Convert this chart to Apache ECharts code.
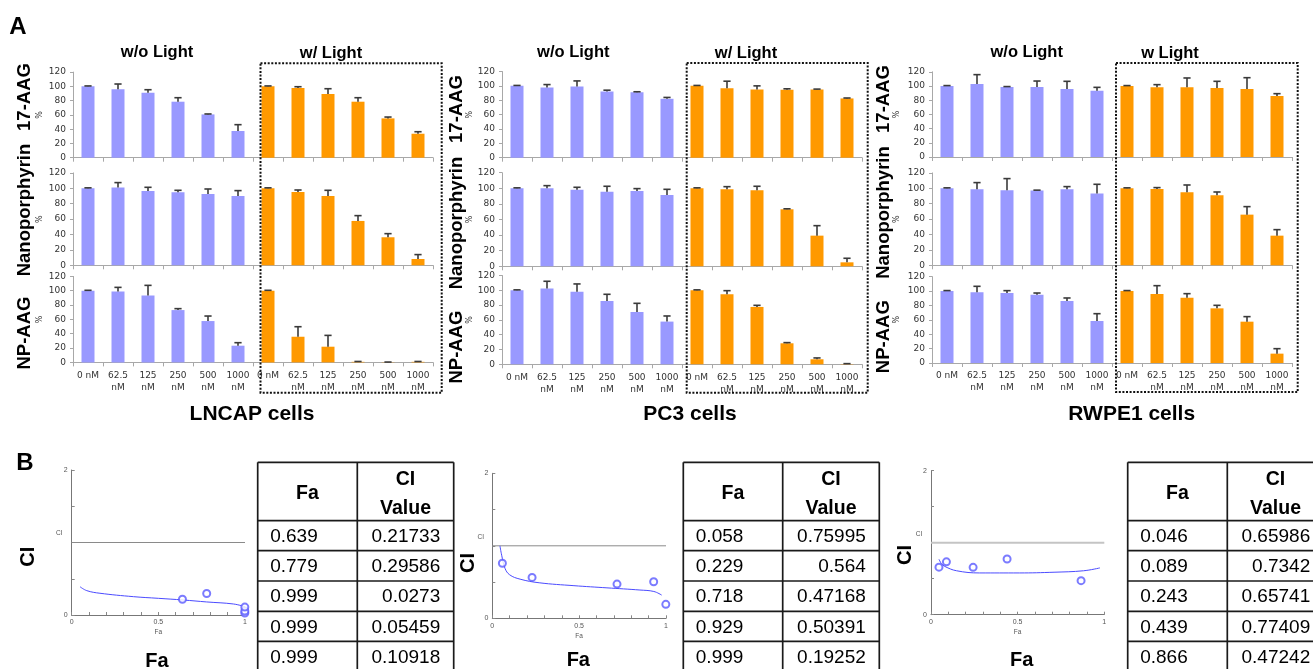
<!DOCTYPE html>
<html><head><meta charset="utf-8">
<script src="https://cdn.jsdelivr.net/npm/echarts@6/dist/echarts.min.js"></script>
<style>html,body{margin:0;padding:0;background:#fff}#c{width:1313px;height:669px}</style>
</head><body><div id="c"></div>
<script>
// ---------- DATA ----------
const doseLabels = ['0 nM', '62.5\nnM', '125\nnM', '250\nnM', '500\nnM', '1000\nnM'];
const drugNames = ['17-AAG', 'Nanoporphyrin', 'NP-AAG'];
const cellNames = ['LNCAP cells', 'PC3 cells', 'RWPE1 cells'];
const darkTitles = ['w/o Light', 'w/o Light', 'w/o Light'];
const lightTitles = ['w/ Light', 'w/ Light', 'w Light'];

// LNCAP
const lncap_17aag_dark = [100, 95.8, 91.1, 78.5, 60.7, 37.4];
const lncap_17aag_dark_err = [0.6, 7.5, 4.2, 5.6, 0.6, 8.9];
const lncap_17aag_light = [100, 97.7, 89.3, 78.5, 55.1, 33.6];
const lncap_17aag_light_err = [0.6, 1.8, 7.4, 5.6, 1.9, 2.8];
const lncap_np_dark = [100, 100.9, 96.5, 94.8, 92.6, 90.0];
const lncap_np_dark_err = [0.6, 6.5, 4.8, 2.6, 6.5, 7.0];
const lncap_np_light = [100, 95.2, 90.0, 57.6, 36.4, 8.2];
const lncap_np_light_err = [0.6, 2.6, 7.4, 6.9, 4.7, 5.7];
const lncap_npaag_dark = [100, 99.1, 93.5, 73.0, 57.7, 23.3];
const lncap_npaag_dark_err = [0.6, 5.6, 14, 2, 7, 4.2];
const lncap_npaag_light = [100, 35.8, 21.9, 0.8, 0.3, 0.8];
const lncap_npaag_light_err = [0.6, 14, 15.8, 0.5, 0.2, 0.5];
// PC3
const pc3_17aag_dark = [100, 97.7, 99.1, 92.2, 91.2, 82];
const pc3_17aag_dark_err = [0.6, 4.1, 7.8, 1.8, 0.6, 1.9];
const pc3_17aag_light = [100, 96.8, 94.9, 94.5, 94.9, 82.5];
const pc3_17aag_light_err = [0.6, 9.7, 5.1, 1.4, 0.6, 0.6];
const pc3_np_dark = [100, 100, 98.3, 95.7, 96.6, 91.5];
const pc3_np_dark_err = [0.6, 3.4, 3, 6.9, 3, 7.2];
const pc3_np_light = [100, 98.7, 97.4, 73.1, 39.3, 5.1];
const pc3_np_light_err = [0.6, 3.4, 5.2, 0.6, 12.8, 5.2];
const pc3_npaag_dark = [100, 102.3, 98.2, 85.6, 70.7, 57.7];
const pc3_npaag_dark_err = [0.6, 9.9, 10.4, 9, 11.7, 7.6];
const pc3_npaag_light = [100, 94.6, 77.5, 28.4, 6.8, 0.4];
const pc3_npaag_light_err = [0.6, 4.9, 2.2, 0.9, 1.8, 0.5];
// RWPE1
const rwpe1_17aag_dark = [100, 102.8, 98.6, 98.6, 95.8, 93.4];
const rwpe1_17aag_dark_err = [0.6, 13.2, 0.6, 8.4, 10.8, 4.7];
const rwpe1_17aag_light = [100, 98.1, 98.1, 97.2, 95.8, 85.9];
const rwpe1_17aag_light_err = [0.6, 3.8, 13.2, 9.4, 15.9, 3.3];
const rwpe1_np_dark = [100, 98.7, 97.4, 97.0, 98.7, 93.1];
const rwpe1_np_dark_err = [0.6, 8.7, 15.2, 0.6, 3.5, 12.1];
const rwpe1_np_light = [100, 99.1, 94.8, 90.9, 65.8, 38.5];
const rwpe1_np_light_err = [0.6, 1.8, 9.5, 4.3, 10.4, 7.8];
const rwpe1_npaag_dark = [100, 98.1, 97.2, 94.9, 86.1, 58.3];
const rwpe1_npaag_dark_err = [0.6, 8.4, 3.3, 2.3, 4.2, 10.2];
const rwpe1_npaag_light = [100, 95.8, 90.7, 75.9, 57.4, 13];
const rwpe1_npaag_light_err = [0.6, 11.6, 5.6, 4.2, 7, 6.9];

// Panel B: combination index
const ci_fa_lncap = [0.639, 0.779, 0.999, 0.999, 0.999];
const ci_val_lncap = [0.21733, 0.29586, 0.0273, 0.05459, 0.10918];
const ci_fa_pc3 = [0.058, 0.229, 0.718, 0.929, 0.999];
const ci_val_pc3 = [0.75995, 0.564, 0.47168, 0.50391, 0.19252];
const ci_fa_rwpe1 = [0.046, 0.089, 0.243, 0.439, 0.866];
const ci_val_rwpe1 = [0.65986, 0.7342, 0.65741, 0.77409, 0.47242];
// simulated CI curves [Fa, CI]
const ci_curve_lncap = [[0.048,0.39],[0.087,0.336],[0.163,0.30],[0.356,0.253],[0.5,0.23],[0.644,0.207],[0.779,0.18],[0.933,0.152],[1.0,0.115]];
const ci_curve_pc3 = [[0.044,1.0],[0.054,0.87],[0.073,0.69],[0.10,0.60],[0.16,0.54],[0.27,0.49],[0.47,0.45],[0.66,0.42],[0.85,0.39],[0.93,0.37],[0.975,0.32]];
const ci_curve_rwpe1 = [[0.046,0.77],[0.06,0.71],[0.08,0.67],[0.148,0.61],[0.28,0.58],[0.51,0.58],[0.71,0.59],[0.88,0.61],[0.975,0.65]];
const ci_ref_line = [[0, 1], [1, 1]];
const ciTicksShown = [0, 2];
const faTicksShown = [0, 0.5, 1];

// ---------- STRUCTURE ----------
const groups = [
  [[lncap_17aag_dark, lncap_17aag_dark_err, lncap_17aag_light, lncap_17aag_light_err],
   [lncap_np_dark, lncap_np_dark_err, lncap_np_light, lncap_np_light_err],
   [lncap_npaag_dark, lncap_npaag_dark_err, lncap_npaag_light, lncap_npaag_light_err]],
  [[pc3_17aag_dark, pc3_17aag_dark_err, pc3_17aag_light, pc3_17aag_light_err],
   [pc3_np_dark, pc3_np_dark_err, pc3_np_light, pc3_np_light_err],
   [pc3_npaag_dark, pc3_npaag_dark_err, pc3_npaag_light, pc3_npaag_light_err]],
  [[rwpe1_17aag_dark, rwpe1_17aag_dark_err, rwpe1_17aag_light, rwpe1_17aag_light_err],
   [rwpe1_np_dark, rwpe1_np_dark_err, rwpe1_np_light, rwpe1_np_light_err],
   [rwpe1_npaag_dark, rwpe1_npaag_dark_err, rwpe1_npaag_light, rwpe1_npaag_light_err]]
];
const ciSets = [
  [ci_fa_lncap, ci_val_lncap, ci_curve_lncap],
  [ci_fa_pc3, ci_val_pc3, ci_curve_pc3],
  [ci_fa_rwpe1, ci_val_rwpe1, ci_curve_rwpe1]
];

// ---------- LAYOUT ----------
const layA = [
  {left:73, rows:[[72.1,85.6],[172.9,92.4],[276.4,86]], box:[260.5,63.3,181.2,329.4], labelX:25, labelYs:[97,210,333], pctX:40, woX:157, wX:331, cellsX:252},
  {left:502, rows:[[71.5,86.2],[172.7,93.6],[275.5,88.8]], box:[686.7,63,181,329.7], labelX:456.7, labelYs:[109,223,347], pctX:470, woX:573.3, wX:746, cellsX:690},
  {left:932, rows:[[71.8,85.2],[172.9,92.4],[276.6,86.4]], box:[1116,63,181.7,329], labelX:884, labelYs:[99,212.5,336.7], pctX:896.7, woX:1026.7, wX:1170, cellsX:1131.7}
];
const layB = [
  {grid:[71.7,470,173.3,145], ciBig:[28,556.7], faBig:[157,661], ciSmall:[59.3,533.3], refColor:'#8a8a8a', refW:1, table:[257.7,357.3,453.7]},
  {grid:[492.3,473.3,173.7,145], ciBig:[468.3,563], faBig:[578.3,660], ciSmall:[480.7,537.3], refColor:'#8a8a8a', refW:1, table:[683.3,782.7,879.3]},
  {grid:[931,470.7,173.3,144], ciBig:[905,555], faBig:[1021.7,660], ciSmall:[919,534], refColor:'#c4c4c4', refW:2, table:[1127.7,1227.3,1323.7]}
];
const tableRowsY = [462.3, 520.7, 550.7, 581, 611.3, 641.3, 671.6];

const FONT = 'Liberation Sans, Arial, sans-serif';
const TICKFONT = 'DejaVu Sans, Verdana, sans-serif';

const grid = [], xAxis = [], yAxis = [], series = [], graphic = [];
const cats12 = Array.from({length:12}, (_, i) => 'c' + i);
const blank6 = ['-', '-', '-', '-', '-', '-'];

function txt(x, y, text, o) {
  o = o || {};
  graphic.push({
    type:'text', x, y, rotation:o.rot || 0, z:100, silent:true,
    style:{text, fontFamily:o.family || FONT, fontSize:o.size || 12, fontWeight:o.weight || 'normal',
      fill:o.color || '#000', textAlign:o.align || 'center', align:o.align || 'center',
      textVerticalAlign:'middle', verticalAlign:'middle'}
  });
}
function line(x1, y1, x2, y2, color, w) {
  graphic.push({type:'line', z:100, silent:true, shape:{x1, y1, x2, y2}, style:{stroke:color, lineWidth:w}});
}

function renderErr(params, api) {
  const x = api.value(0), v = api.value(1), e = api.value(2);
  const p0 = api.coord([x, v]);
  const p1 = api.coord([x, v + e]);
  const hw = 3.6;
  const st = {stroke:'#3a3a3a', lineWidth:1.6};
  return {type:'group', children:[
    {type:'line', shape:{x1:p0[0], y1:p0[1], x2:p1[0], y2:p1[1]}, style:st},
    {type:'line', shape:{x1:p1[0]-hw, y1:p1[1], x2:p1[0]+hw, y2:p1[1]}, style:st}
  ]};
}

let gi = 0;
groups.forEach((rows, k) => {
  const L = layA[k];
  rows.forEach((r, ri) => {
    const [top, h] = L.rows[ri];
    const [dark, darkErr, light, lightErr] = r;
    grid.push({left:L.left, top:top, width:360, height:h});
    xAxis.push({
      type:'category', gridIndex:gi, data:cats12, boundaryGap:true,
      axisLine:{show:true, lineStyle:{color:'#a8a8a8', width:1}},
      axisTick:{show:true, length:4, alignWithLabel:false, lineStyle:{color:'#a8a8a8'}},
      axisLabel:{show:ri === 2, interval:0, formatter:(v, i) => doseLabels[i % 6],
        fontFamily:TICKFONT, fontSize:9, color:'#333', lineHeight:12, margin:7}
    });
    yAxis.push({
      type:'value', gridIndex:gi, min:0, max:120, interval:20,
      axisLine:{show:true, lineStyle:{color:'#a8a8a8', width:1}},
      axisTick:{show:true, length:3, lineStyle:{color:'#a8a8a8'}},
      splitLine:{show:false},
      axisLabel:{fontFamily:TICKFONT, fontSize:9, color:'#333', margin:7}
    });
    series.push({type:'bar', xAxisIndex:gi, yAxisIndex:gi, data:dark.concat(blank6),
      barWidth:13, barGap:'-100%', itemStyle:{color:'#9999ff'}, silent:true, animation:false});
    series.push({type:'bar', xAxisIndex:gi, yAxisIndex:gi, data:blank6.concat(light),
      barWidth:13, barGap:'-100%', itemStyle:{color:'#ff9900'}, silent:true, animation:false});
    const errData = dark.map((v, i) => [i, v, darkErr[i]]).concat(light.map((v, i) => [i + 6, v, lightErr[i]]));
    series.push({type:'custom', xAxisIndex:gi, yAxisIndex:gi, data:errData, encode:{x:0, y:1},
      renderItem:renderErr, z:5, silent:true, animation:false});
    // row label & %
    txt(L.labelX, L.labelYs[ri], drugNames[ri], {rot:Math.PI/2, size:18.5, weight:'bold'});
    txt(L.pctX, top + h / 2, '%', {rot:Math.PI/2, size:8, family:TICKFONT, color:'#333'});
    gi++;
  });
  txt(L.woX, 52, darkTitles[k], {size:16.5, weight:'bold'});
  txt(L.wX, 53, lightTitles[k], {size:16.5, weight:'bold'});
  txt(L.cellsX, 414, cellNames[k], {size:21, weight:'bold'});
  const b = L.box;
  graphic.push({type:'rect', z:100, silent:true, shape:{x:b[0], y:b[1], width:b[2], height:b[3]},
    style:{fill:'none', stroke:'#111', lineWidth:2, lineDash:[2, 1.6]}});
});

txt(18, 27, 'A', {size:24, weight:'bold'});
txt(25, 463.5, 'B', {size:24, weight:'bold'});

ciSets.forEach((s, k) => {
  const B = layB[k];
  const [fa, ci, curve] = s;
  grid.push({left:B.grid[0], top:B.grid[1], width:B.grid[2], height:B.grid[3]});
  xAxis.push({
    type:'value', gridIndex:gi, min:0, max:1, interval:0.1,
    axisLine:{show:true, lineStyle:{color:'#777', width:1}},
    axisTick:{show:true, inside:true, length:3, lineStyle:{color:'#888'}},
    splitLine:{show:false},
    axisLabel:{fontFamily:FONT, fontSize:7, color:'#555', margin:4,
      formatter:v => { const t = faTicksShown.find(f => Math.abs(f - v) < 1e-6); return t === undefined ? '' : String(t); }},
    name:'Fa', nameLocation:'middle', nameGap:14, nameTextStyle:{fontFamily:FONT, fontSize:6.5, color:'#555'}
  });
  yAxis.push({
    type:'value', gridIndex:gi, min:0, max:2, interval:0.5,
    axisLine:{show:true, lineStyle:{color:'#777', width:1}},
    axisTick:{show:true, inside:true, length:3, lineStyle:{color:'#888'}},
    splitLine:{show:false},
    axisLabel:{fontFamily:FONT, fontSize:7, color:'#555', margin:4,
      formatter:v => { const t = ciTicksShown.find(f => Math.abs(f - v) < 1e-6); return t === undefined ? '' : String(t); }}
  });
  series.push({type:'line', xAxisIndex:gi, yAxisIndex:gi, data:ci_ref_line, symbol:'none',
    lineStyle:{color:B.refColor, width:B.refW}, silent:true, animation:false});
  series.push({type:'line', xAxisIndex:gi, yAxisIndex:gi, data:curve, symbol:'none', smooth:0.4,
    lineStyle:{color:'#4b4bff', width:1}, silent:true, animation:false});
  series.push({type:'scatter', xAxisIndex:gi, yAxisIndex:gi, data:fa.map((f, i) => [f, ci[i]]),
    symbol:'emptyCircle', symbolSize:7, itemStyle:{color:'#5a5aff', borderWidth:1}, silent:true, animation:false, z:4});
  gi++;
  txt(B.ciBig[0], B.ciBig[1], 'CI', {rot:Math.PI/2, size:20, weight:'bold'});
  txt(B.faBig[0], B.faBig[1], 'Fa', {size:20, weight:'bold'});
  txt(B.ciSmall[0], B.ciSmall[1], 'CI', {size:6.5, color:'#555'});
  // table
  const [tl, td, tr] = B.table;
  tableRowsY.forEach(y => line(tl, y, tr, y, '#1a1a1a', 1.7));
  [tl, td, tr].forEach(x => line(x, tableRowsY[0], x, tableRowsY[tableRowsY.length - 1], '#1a1a1a', 1.7));
  txt((tl + td) / 2, 494, 'Fa', {size:19.5, weight:'bold'});
  txt((td + tr) / 2, 480, 'CI', {size:19.5, weight:'bold'});
  txt((td + tr) / 2, 508.5, 'Value', {size:19.5, weight:'bold'});
  fa.forEach((f, i) => {
    const yc = (tableRowsY[i + 1] + tableRowsY[i + 2]) / 2 + 1;
    txt(tl + 12.5, yc, String(f), {size:19, align:'left'});
    txt(tr - 13.5, yc, String(ci[i]), {size:19, align:'right'});
  });
});

const chart = echarts.init(document.getElementById('c'), null, {renderer:'canvas', width:1313, height:669});
chart.setOption({
  backgroundColor:'#ffffff',
  animation:false,
  grid, xAxis, yAxis, series, graphic
});
</script>
</body></html>
